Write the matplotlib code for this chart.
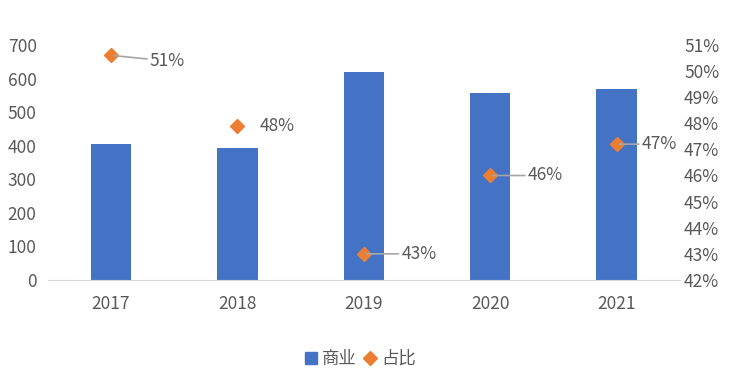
import matplotlib.pyplot as plt
from matplotlib.lines import Line2D
from matplotlib.patches import Patch

plt.rcParams['font.family'] = ['Noto Sans CJK SC', 'DejaVu Sans']

years = ['2017', '2018', '2019', '2020', '2021']
commercial = [405, 393, 619, 557, 569]
share = [50.6, 47.9, 43.0, 46.0, 47.2]
share_labels = ['51%', '48%', '43%', '46%', '47%']

bar_color = '#4472C4'
dot_color = '#ED7D31'
text_color = '#595959'
fs = 12.5

fig = plt.figure(figsize=(7.35, 3.84), dpi=100)
ax1 = fig.add_axes([0.065, 0.271, 0.86, 0.612])
x = range(len(years))
ax1.bar(x, commercial, width=0.32, color=bar_color, zorder=2)
ax1.set_xlim(-0.5, 4.5)
ax1.set_ylim(0, 700)
ax1.set_yticks(range(0, 701, 100))
ax1.set_xticks(list(x))
ax1.set_xticklabels(years)
ax1.tick_params(length=0, labelsize=fs, colors=text_color, pad=11)
ax1.tick_params(axis='y', pad=8)
for s in ['top', 'right', 'left']:
    ax1.spines[s].set_visible(False)
ax1.spines['bottom'].set_color('#D9D9D9')

ax2 = ax1.twinx()
ax2.plot(x, share, linestyle='none', marker='D', markersize=7.5, color=dot_color, zorder=3)
ax2.set_ylim(42, 51)
ax2.set_yticks(range(42, 52))
ax2.set_yticklabels([f'{v}%' for v in range(42, 52)])
ax2.tick_params(length=0, labelsize=fs, colors=text_color, pad=3)
for s in ax2.spines.values():
    s.set_visible(False)

# data labels (offsets in points), some with leader lines
offsets = [(28, -4), (16, 0), (27, 0), (27, 0), (18, 0)]
leaders = [True, False, True, True, True]
for i, (v, lab) in enumerate(zip(share, share_labels)):
    dx, dy = offsets[i]
    props = dict(arrowstyle='-', color='#A6A6A6', lw=1.2, shrinkA=0, shrinkB=2) if leaders[i] else None
    ax2.annotate(lab, xy=(i, v), xytext=(dx, dy), textcoords='offset points',
                 ha='left', va='center', fontsize=fs, color=text_color,
                 arrowprops=props)

handles = [Patch(color=bar_color, label='商业'),
           Line2D([], [], linestyle='none', marker='D', markersize=7.5, color=dot_color, label='占比')]
fig.legend(handles=handles, loc='center', bbox_to_anchor=(0.49, 0.065), ncol=2, frameon=False,
           fontsize=fs, handlelength=0.7, handletextpad=0.3, columnspacing=0.4, labelcolor=text_color)

fig.savefig('out.png', dpi=100)
